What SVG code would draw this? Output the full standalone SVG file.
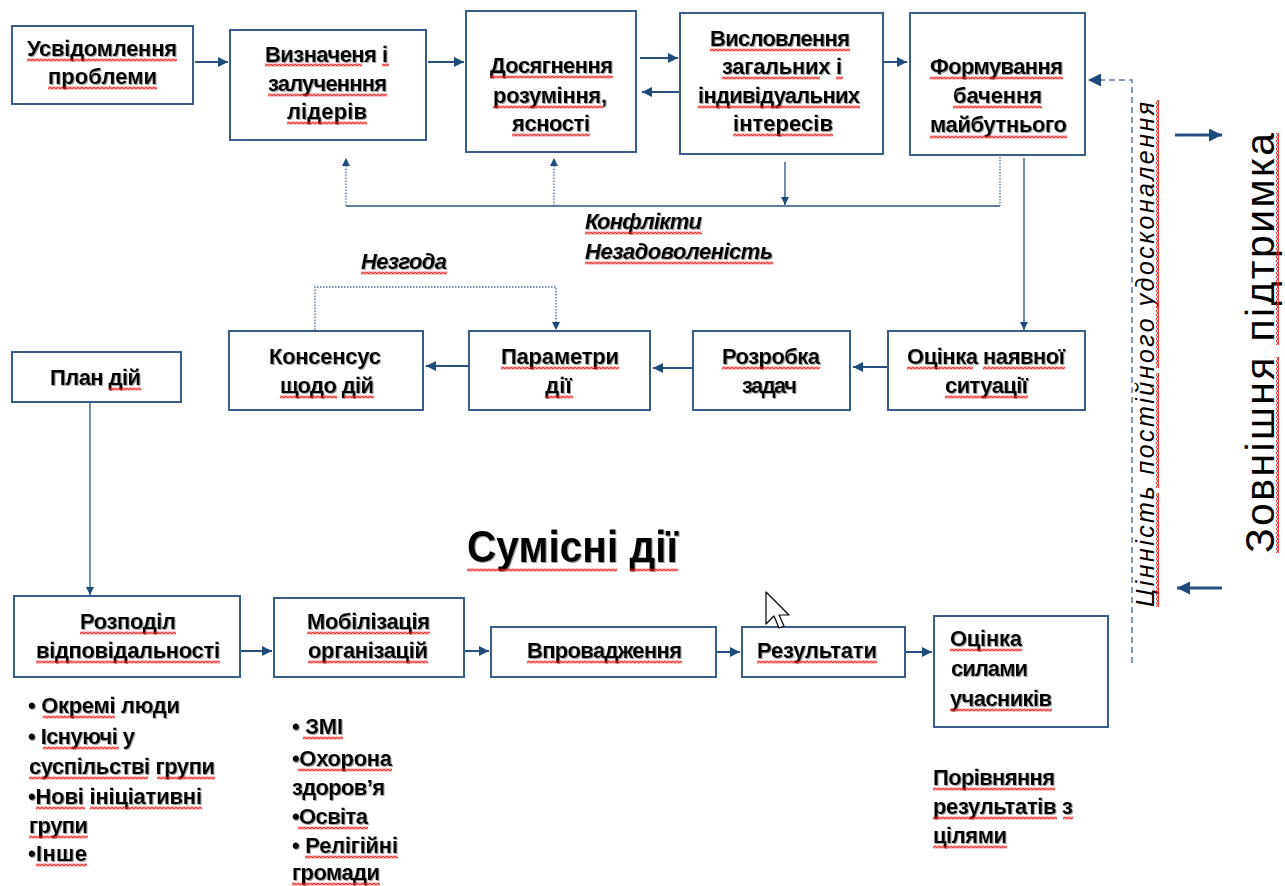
<svg xmlns="http://www.w3.org/2000/svg" width="1285" height="886" viewBox="0 0 1285 886">
<style>
.box{fill:#fff;stroke:#385d8a;stroke-width:2}
.t{font-family:"Liberation Sans",Arial,sans-serif;font-weight:bold;font-size:22px;fill:#000;filter:url(#sh)}
.c{text-anchor:middle}
.i{font-style:italic}
.sq{fill:url(#sq)}
.ln{fill:none;stroke:#2a5082;stroke-width:2}
.thin{fill:none;stroke:#2a5082;stroke-width:1.3}
.dot{fill:none;stroke:#4a6a96;stroke-width:1.3;stroke-dasharray:1.5 1.5}
.dash{fill:none;stroke:#5a7aa6;stroke-width:1.5;stroke-dasharray:6 4}
.big{stroke-width:3}
</style>
<defs>
<filter id="sh" x="-5%" y="-20%" width="110%" height="140%">
<feDropShadow dx="1" dy="1" stdDeviation="0.6" flood-color="#777" flood-opacity="0.7"/>
</filter>
<pattern id="sq" patternUnits="userSpaceOnUse" x="0" y="0" width="4" height="3">
<path d="M-1,1.5 L0,2.5 L2,0.5 L4,2.5 L5,1.5" fill="none" stroke="#f01818" stroke-width="1.3"/>
</pattern>
<marker id="ah" viewBox="0 0 10 10" refX="10" refY="5" markerWidth="10" markerHeight="10" markerUnits="userSpaceOnUse" orient="auto">
<path d="M0,0 L10,5 L0,10 z" fill="#1f4a7c"/>
</marker>
<marker id="ah2" viewBox="0 0 10 10" refX="10" refY="5" markerWidth="8" markerHeight="8" markerUnits="userSpaceOnUse" orient="auto">
<path d="M0,0 L10,5 L0,10 z" fill="#1f4a7c"/>
</marker>
<marker id="ah3" viewBox="0 0 10 10" refX="10" refY="5" markerWidth="13" markerHeight="13" markerUnits="userSpaceOnUse" orient="auto">
<path d="M0,0 L10,5 L0,10 z" fill="#1f4a7c"/>
</marker>
</defs>

<g id="connectors">
<path class="ln" d="M195,62 H228" marker-end="url(#ah)"/>
<path class="ln" d="M428,62 H464" marker-end="url(#ah)"/>
<path class="ln" d="M640,58 H678" marker-end="url(#ah)"/>
<path class="ln" d="M680,92 H642" marker-end="url(#ah)"/>
<path class="ln" d="M883,62 H907" marker-end="url(#ah)"/>
<path class="thin" d="M346,206 H1000"/>
<path class="dot" d="M1000,157 V206"/>
<path class="dot" d="M346,206 V158" marker-end="url(#ah2)"/>
<path class="dot" d="M554,206 V158" marker-end="url(#ah2)"/>
<path class="thin" d="M785,162 V205" marker-end="url(#ah2)"/>
<path class="thin" d="M1024,158 V330" marker-end="url(#ah2)"/>
<path class="ln" d="M888,367 H853" marker-end="url(#ah)"/>
<path class="ln" d="M693,368 H653" marker-end="url(#ah)"/>
<path class="ln" d="M469,366 H426" marker-end="url(#ah)"/>
<path class="dot" d="M315,330 V287 H556 V330" marker-end="url(#ah2)"/>
<path class="thin" d="M90,402 V595" marker-end="url(#ah2)"/>
<path class="ln" d="M241,651 H272" marker-end="url(#ah)"/>
<path class="ln" d="M465,651 H489" marker-end="url(#ah)"/>
<path class="ln" d="M717,652 H740" marker-end="url(#ah)"/>
<path class="ln" d="M906,652 H932" marker-end="url(#ah)"/>
<path class="dash" d="M1132,663 V80 H1088" marker-end="url(#ah3)"/>
<path class="ln big" d="M1175,135 H1222" marker-end="url(#ah3)"/>
<path class="ln big" d="M1222,588 H1177" marker-end="url(#ah3)"/>
</g>

<g id="n1">
<rect class="box" x="12" y="26" width="181" height="78"/>
<text class="t c" x="102" y="56" textLength="150">Усвідомлення</text>
<text class="t c" x="102.5" y="84" textLength="109">проблеми</text>
<rect class="sq" transform="translate(27,58.5)" width="150" height="3"/>
<rect class="sq" transform="translate(48,86.5)" width="109" height="3"/>
</g>
<g id="n2">
<rect class="box" x="230" y="30" width="196" height="110"/>
<text class="t c" x="326.5" y="62" textLength="123">Визначеня і</text>
<text class="t c" x="327.5" y="91" textLength="119">залученння</text>
<text class="t c" x="327" y="119" textLength="80">лідерів</text>
<rect class="sq" transform="translate(265,63.5)" width="97" height="3"/>
<rect class="sq" transform="translate(382,63.5)" width="7" height="3"/>
<rect class="sq" transform="translate(268,93.5)" width="119" height="3"/>
<rect class="sq" transform="translate(287,121.5)" width="80" height="3"/>
</g>
<g id="n3">
<rect class="box" x="466" y="11" width="170" height="141"/>
<text class="t c" x="551.5" y="73" textLength="123">Досягнення</text>
<text class="t c" x="550" y="103" textLength="114">розуміння,</text>
<text class="t c" x="551" y="131" textLength="78">ясності</text>
<rect class="sq" transform="translate(490,75.5)" width="123" height="3"/>
<rect class="sq" transform="translate(493,105.5)" width="111" height="3"/>
<rect class="sq" transform="translate(512,133.5)" width="78" height="3"/>
</g>
<g id="n4">
<rect class="box" x="680" y="13" width="203" height="141"/>
<text class="t c" x="780" y="46" textLength="140">Висловлення</text>
<text class="t c" x="782" y="74" textLength="120">загальних і</text>
<text class="t c" x="779" y="103" textLength="162">індивідуальних</text>
<text class="t c" x="783" y="131" textLength="100">інтересів</text>
<rect class="sq" transform="translate(710,48.5)" width="140" height="3"/>
<rect class="sq" transform="translate(722,76.5)" width="98" height="3"/>
<rect class="sq" transform="translate(836,76.5)" width="7" height="3"/>
<rect class="sq" transform="translate(698,105.5)" width="162" height="3"/>
<rect class="sq" transform="translate(733,133.5)" width="100" height="3"/>
</g>
<g id="n5">
<rect class="box" x="910" y="13" width="175" height="142"/>
<text class="t c" x="996.5" y="74" textLength="133">Формування</text>
<text class="t c" x="997.5" y="103" textLength="89">бачення</text>
<text class="t c" x="998.5" y="132" textLength="137">майбутнього</text>
<rect class="sq" transform="translate(930,76.5)" width="133" height="3"/>
<rect class="sq" transform="translate(953,105.5)" width="89" height="3"/>
<rect class="sq" transform="translate(930,135.5)" width="137" height="3"/>
</g>
<g id="lbl-conflict">
<text class="t i" x="585" y="229" textLength="117">Конфлікти</text>
<text class="t i" x="585" y="259" textLength="188">Незадоволеність</text>
<rect class="sq" transform="translate(585,231.5)" width="117" height="3"/>
<rect class="sq" transform="translate(585,261.5)" width="188" height="3"/>
</g>
<g id="lbl-disagree">
<text class="t i" x="361" y="269" textLength="86">Незгода</text>
<rect class="sq" transform="translate(361,271.5)" width="86" height="3"/>
</g>
<g id="n6">
<rect class="box" x="888" y="331" width="197" height="79"/>
<text class="t c" x="986" y="364" textLength="158">Оцінка наявної</text>
<text class="t c" x="986.5" y="393" textLength="83">ситуації</text>
<rect class="sq" transform="translate(907,366.5)" width="66" height="3"/>
<rect class="sq" transform="translate(983,366.5)" width="82" height="3"/>
<rect class="sq" transform="translate(945,395.5)" width="83" height="3"/>
</g>
<g id="n7">
<rect class="box" x="693" y="331" width="157" height="79"/>
<text class="t c" x="771" y="364" textLength="98">Розробка</text>
<text class="t c" x="769.5" y="393" textLength="55">задач</text>
<rect class="sq" transform="translate(722,366.5)" width="98" height="3"/>
</g>
<g id="n8">
<rect class="box" x="469" y="331" width="181" height="79"/>
<text class="t c" x="560" y="364" textLength="118">Параметри</text>
<text class="t c" x="558.5" y="393">дії</text>
<rect class="sq" transform="translate(545,395.5)" width="28" height="3"/>
<rect class="sq" transform="translate(501,366.5)" width="118" height="3"/>
</g>
<g id="n9">
<rect class="box" x="229" y="331" width="194" height="79"/>
<text class="t c" x="325" y="364" textLength="112">Консенсус</text>
<text class="t c" x="327" y="393" textLength="94">щодо дій</text>
<rect class="sq" transform="translate(280,395.5)" width="57" height="3"/>
<rect class="sq" transform="translate(344,395.5)" width="30" height="3"/>
</g>
<g id="n10">
<rect class="box" x="12" y="352" width="169" height="50"/>
<text class="t c" x="95.5" y="385" textLength="91">План дій</text>
<rect class="sq" transform="translate(109,387.5)" width="32" height="3"/>
</g>
<g id="title">
<text class="t" x="467" y="562" textLength="211" lengthAdjust="spacingAndGlyphs" style="font-size:44px">Сумісні дії</text>
<rect class="sq" transform="translate(467,568.5)" width="150" height="3"/>
<rect class="sq" transform="translate(630,568.5)" width="48" height="3"/>
</g>
<g id="n11">
<rect class="box" x="14" y="596" width="226" height="81"/>
<text class="t c" x="128" y="629" textLength="96">Розподіл</text>
<text class="t c" x="128" y="658" textLength="184">відповідальності</text>
<rect class="sq" transform="translate(80,631.5)" width="96" height="3"/>
<rect class="sq" transform="translate(36,660.5)" width="184" height="3"/>
</g>
<g id="n12">
<rect class="box" x="274" y="598" width="190" height="79"/>
<text class="t c" x="368.5" y="629" textLength="123">Мобілізація</text>
<text class="t c" x="368" y="658" textLength="120">організацій</text>
<rect class="sq" transform="translate(307,631.5)" width="123" height="3"/>
<rect class="sq" transform="translate(308,660.5)" width="120" height="3"/>
</g>
<g id="n13">
<rect class="box" x="491" y="627" width="225" height="50"/>
<text class="t c" x="604.5" y="658" textLength="155">Впровадження</text>
<rect class="sq" transform="translate(527,660.5)" width="155" height="3"/>
</g>
<g id="n14">
<rect class="box" x="742" y="627" width="163" height="50"/>
<text class="t c" x="817" y="658" textLength="120">Результати</text>
<rect class="sq" transform="translate(757,660.5)" width="120" height="3"/>
</g>
<g id="n15">
<rect class="box" x="934" y="616" width="174" height="111"/>
<text class="t" x="950" y="646" textLength="72">Оцінка</text>
<text class="t" x="951" y="676" textLength="77">силами</text>
<text class="t" x="950" y="706" textLength="102">учасників</text>
<rect class="sq" transform="translate(950,648.5)" width="72" height="3"/>
<rect class="sq" transform="translate(950,708.5)" width="102" height="3"/>
</g>
<g id="list1">
<text class="t" x="28" y="713" textLength="152">• Окремі люди</text>
<text class="t" x="28" y="744" textLength="107">• Існуючі у</text>
<text class="t" x="29" y="774" textLength="186">суспільстві групи</text>
<text class="t" x="28" y="804" textLength="174">•Нові ініціативні</text>
<text class="t" x="29" y="833" textLength="59">групи</text>
<text class="t" x="28" y="861" textLength="59">•Інше</text>
<rect class="sq" transform="translate(43,715.5)" width="72" height="3"/>
<rect class="sq" transform="translate(43,746.5)" width="76" height="3"/>
<rect class="sq" transform="translate(29,776.5)" width="119" height="3"/>
<rect class="sq" transform="translate(157,776.5)" width="58" height="3"/>
<rect class="sq" transform="translate(36,806.5)" width="49" height="3"/>
<rect class="sq" transform="translate(90,806.5)" width="112" height="3"/>
<rect class="sq" transform="translate(29,835.5)" width="59" height="3"/>
<rect class="sq" transform="translate(36,863.5)" width="51" height="3"/>
</g>
<g id="list2">
<text class="t" x="292" y="734" textLength="51">• ЗМІ</text>
<text class="t" x="292" y="766" textLength="100">•Охорона</text>
<text class="t" x="292" y="795" textLength="93">здоров’я</text>
<text class="t" x="292" y="824" textLength="76">•Освіта</text>
<text class="t" x="292" y="853" textLength="106">• Релігійні</text>
<text class="t" x="292" y="880" textLength="88">громади</text>
<rect class="sq" transform="translate(303,736.5)" width="40" height="3"/>
<rect class="sq" transform="translate(298,768.5)" width="94" height="3"/>
<rect class="sq" transform="translate(298,826.5)" width="70" height="3"/>
<rect class="sq" transform="translate(305,855.5)" width="93" height="3"/>
<rect class="sq" transform="translate(292,882.5)" width="88" height="3"/>
</g>
<g id="compare">
<text class="t" x="933" y="785" textLength="122">Порівняння</text>
<text class="t" x="933" y="814" textLength="140">результатів з</text>
<text class="t" x="933" y="843" textLength="74">цілями</text>
<rect class="sq" transform="translate(933,787.5)" width="122" height="3"/>
<rect class="sq" transform="translate(933,816.5)" width="124" height="3"/>
<rect class="sq" transform="translate(1063,816.5)" width="10" height="3"/>
<rect class="sq" transform="translate(933,845.5)" width="74" height="3"/>
</g>
<g id="lbl-value" transform="translate(1154,607) rotate(-90)">
<text x="0" y="0" textLength="505" style="font-family:'Liberation Sans',Arial,sans-serif;font-style:italic;font-size:25px;fill:#000">Цінність постійного удосконалення</text>
<rect class="sq" x="0" y="2" width="114" height="3"/>
<rect class="sq" x="119" y="2" width="115" height="3"/>
<rect class="sq" x="239" y="2" width="268" height="3"/>
</g>
<g id="lbl-support" transform="translate(1274,553) rotate(-90)">
<text x="0" y="0" textLength="420" style="font-family:'Liberation Sans',Arial,sans-serif;font-size:41px;fill:#000">Зовнішня підтримка</text>
<rect class="sq" x="0" y="2" width="196" height="3"/>
<rect class="sq" x="208" y="2" width="212" height="3"/>
</g>
<g id="cursor">
<path d="M766,592 V624 L774,616 L779,628 L784,626 L779,615 L789,615 Z" fill="#fff" stroke="#000" stroke-width="1.2" stroke-linejoin="round"/>
</g>
</svg>
